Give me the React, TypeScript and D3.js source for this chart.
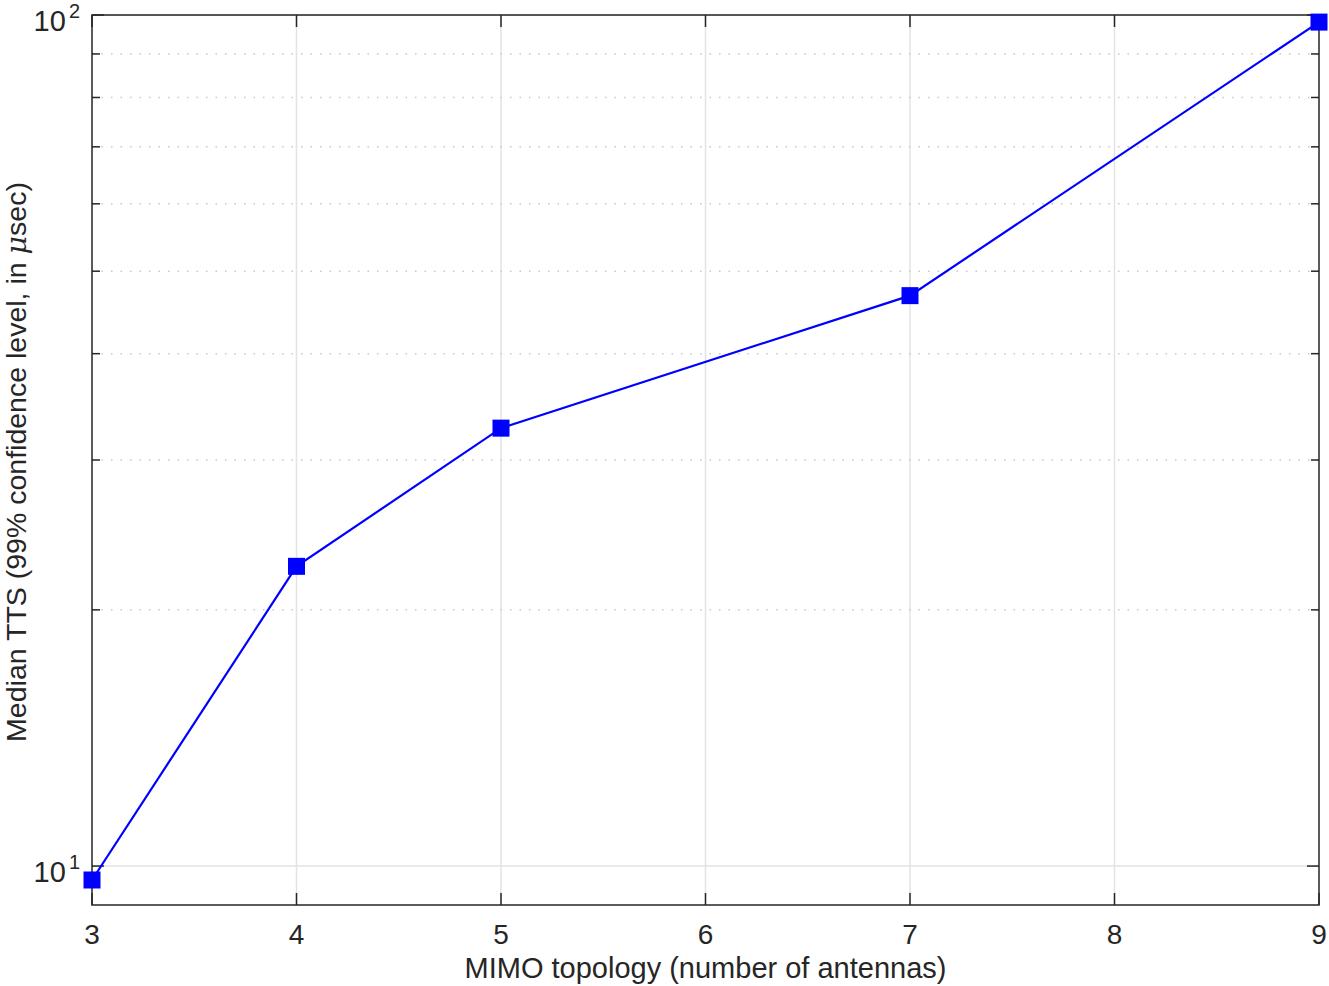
import React, { useEffect, useRef } from "react";
import * as d3 from "d3";

// chart data
const antennas = [3, 4, 5, 7, 9];
const medianTTS = [9.63, 22.5, 32.7, 46.8, 98.1];
const xTicks = [3, 4, 5, 6, 7, 8, 9];
const yMajor = [10, 100];
const yMinor = [20, 30, 40, 50, 60, 70, 80, 90];

const App = () => {
  const ref = useRef<SVGSVGElement>(null);

  useEffect(() => {
    const width = 1329;
    const height = 986;
    const m = { left: 92, right: 10, top: 15, bottom: 81 };
    const font = "'Liberation Sans', Arial, Helvetica, sans-serif";

    const svg = d3.select(ref.current);
    svg.selectAll("*").remove();

    const x = d3.scaleLinear().domain([3, 9]).range([m.left, width - m.right]);
    const y = d3.scaleLog().domain([9, 100]).range([height - m.bottom, m.top]);

    const [x0, x1] = x.range();
    const [yb, yt] = y.range();

    // vertical grid
    svg
      .append("g")
      .selectAll("line")
      .data(xTicks.slice(1, -1))
      .join("line")
      .attr("x1", (d) => x(d))
      .attr("x2", (d) => x(d))
      .attr("y1", yb)
      .attr("y2", yt)
      .attr("stroke", "#e3e3e3")
      .attr("stroke-width", 1.5);

    // horizontal major grid
    svg
      .append("g")
      .selectAll("line")
      .data(yMajor)
      .join("line")
      .attr("x1", x0)
      .attr("x2", x1)
      .attr("y1", (d) => y(d))
      .attr("y2", (d) => y(d))
      .attr("stroke", "#e3e3e3")
      .attr("stroke-width", 1.5);

    // minor dotted grid
    svg
      .append("g")
      .selectAll("line")
      .data(yMinor)
      .join("line")
      .attr("x1", x0)
      .attr("x2", x1)
      .attr("y1", (d) => y(d))
      .attr("y2", (d) => y(d))
      .attr("stroke", "#c8c8c8")
      .attr("stroke-width", 1.5)
      .attr("stroke-dasharray", "1.5,8");

    // axes box
    svg
      .append("rect")
      .attr("x", x0)
      .attr("y", yt)
      .attr("width", x1 - x0)
      .attr("height", yb - yt)
      .attr("fill", "none")
      .attr("stroke", "#262626")
      .attr("stroke-width", 1.5);

    // ticks (inward) on all sides
    const yt_all = [...yMajor, ...yMinor];
    const tk = svg.append("g").attr("stroke", "#262626").attr("stroke-width", 1.5);
    yt_all.forEach((v) => {
      const len = yMajor.includes(v) ? 12 : 8;
      tk.append("line").attr("x1", x0).attr("x2", x0 + len).attr("y1", y(v)).attr("y2", y(v));
      tk.append("line").attr("x1", x1).attr("x2", x1 - len).attr("y1", y(v)).attr("y2", y(v));
    });
    xTicks.forEach((v) => {
      tk.append("line").attr("x1", x(v)).attr("x2", x(v)).attr("y1", yb).attr("y2", yb - 12);
      tk.append("line").attr("x1", x(v)).attr("x2", x(v)).attr("y1", yt).attr("y2", yt + 12);
    });

    // x tick labels
    svg
      .append("g")
      .selectAll("text")
      .data(xTicks)
      .join("text")
      .attr("x", (d) => x(d))
      .attr("y", yb + 39)
      .attr("text-anchor", "middle")
      .attr("font-family", font)
      .attr("font-size", 28)
      .attr("fill", "#262626")
      .text((d) => d);

    // y tick labels 10^n
    yMajor.forEach((v) => {
      const t = svg
        .append("text")
        .attr("x", x0 - 12)
        .attr("y", y(v) + 16)
        .attr("text-anchor", "end")
        .attr("font-family", font)
        .attr("font-size", 29)
        .attr("fill", "#262626");
      t.append("tspan").text("10");
      t.append("tspan")
        .attr("dx", 3)
        .attr("dy", -13)
        .attr("font-size", 20)
        .text(Math.round(Math.log10(v)));
    });

    // axis labels
    svg
      .append("text")
      .attr("x", (x0 + x1) / 2)
      .attr("y", height - 8)
      .attr("text-anchor", "middle")
      .attr("font-family", font)
      .attr("font-size", 29)
      .attr("fill", "#262626")
      .text("MIMO topology (number of antennas)");

    const yl = svg
      .append("text")
      .attr("transform", `translate(26,${(yt + yb) / 2 + 2}) rotate(-90)`)
      .attr("text-anchor", "middle")
      .attr("font-family", font)
      .attr("font-size", 28.5)
      .attr("fill", "#262626");
    yl.append("tspan").text("Median TTS (99% confidence level, in ");
    yl.append("tspan").attr("font-style", "italic").attr("font-family", "'DejaVu Serif', serif").text("\u03bc");
    yl.append("tspan").text("sec)");

    // series
    const data = antennas.map((a, i) => ({ a, v: medianTTS[i] }));
    const line = d3
      .line<{ a: number; v: number }>()
      .x((d) => x(d.a))
      .y((d) => y(d.v));

    svg
      .append("path")
      .datum(data)
      .attr("d", line)
      .attr("fill", "none")
      .attr("stroke", "#0000ff")
      .attr("stroke-width", 2.2);

    const s = 17;
    svg
      .append("g")
      .selectAll("rect")
      .data(data)
      .join("rect")
      .attr("x", (d) => x(d.a) - s / 2)
      .attr("y", (d) => y(d.v) - s / 2)
      .attr("width", s)
      .attr("height", s)
      .attr("fill", "#0000ff");
  }, []);

  return <svg ref={ref} width={1329} height={986} style={{ display: "block", position: "absolute", left: 0, top: 0 }} />;
};

export default App;
